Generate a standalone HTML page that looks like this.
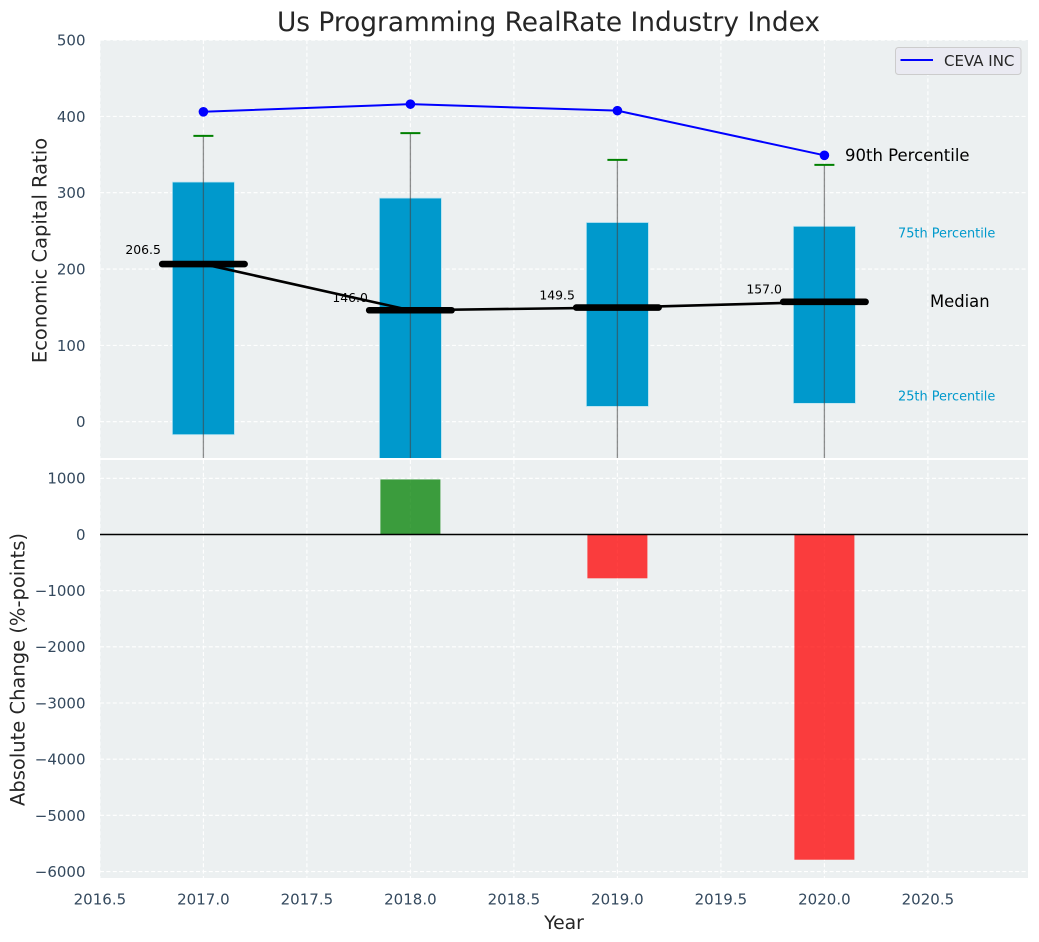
<!DOCTYPE html>
<html>
<head>
<meta charset="utf-8">
<style>
html,body{margin:0;padding:0;background:#fff;width:1039px;height:942px;overflow:hidden}
svg{display:block}
text{font-family:"DejaVu Sans","Liberation Sans",sans-serif}
</style>
</head>
<body>
<svg id="chart" xmlns="http://www.w3.org/2000/svg" width="1039" height="942" viewBox="0 0 1039 942">
<defs>
<clipPath id="clip-top"><rect x="100" y="40" width="928" height="418"/></clipPath>
<clipPath id="clip-bottom"><rect x="100" y="460" width="928" height="418"/></clipPath>
</defs>
</svg>
<script>
const years = [2017, 2018, 2019, 2020];
const ceva = [406, 416, 407.5, 349];
const p90 = [374.5, 378, 343, 336.5];
const p75 = [314, 293, 261, 256];
const medians = [206.5, 146.0, 149.5, 157.0];
const medianLabels = ['206.5', '146.0', '149.5', '157.0'];
const p25 = [-17, -60, 20, 24];
const p10 = [-120, -150, -90, -85];
const changes = [null, 980, -780, -5790];
const xTicks = [2016.5, 2017, 2017.5, 2018, 2018.5, 2019, 2019.5, 2020, 2020.5];
const xTickLabels = ['2016.5', '2017.0', '2017.5', '2018.0', '2018.5', '2019.0', '2019.5', '2020.0', '2020.5'];
const yTopTicks = [0, 100, 200, 300, 400, 500];
const yBottomTicks = [1000, 0, -1000, -2000, -3000, -4000, -5000, -6000];
const yBottomTickLabels = ['1000', '0', '\u22121000', '\u22122000', '\u22123000', '\u22124000', '\u22125000', '\u22126000'];

const svgNS = 'http://www.w3.org/2000/svg';
const svg = document.getElementById('chart');
const x = v => 203.4 + 207 * (v - 2017);
const yTop = v => 421.7 - 0.7633 * v;
const yBot = v => 534.5 - 0.05617 * v;

function make(tag, attrs, parent, txt) {
  const el = document.createElementNS(svgNS, tag);
  for (const k in attrs) el.setAttribute(k, attrs[k]);
  if (txt !== undefined) el.textContent = txt;
  (parent || svg).appendChild(el);
  return el;
}
let el;

/* backgrounds */
el = make('rect', {x: 100, y: 40, width: 928, height: 418, fill: '#ecf0f1'});


el = make('rect', {x: 100, y: 460, width: 928, height: 418, fill: '#ecf0f1'});



/* grid */
const gridStyle = {stroke: '#ffffff', 'stroke-width': 1.1, 'stroke-dasharray': '4 2.4', fill: 'none'};
xTicks.forEach(t => {
  el = make('line', Object.assign({x1: x(t), x2: x(t), y1: 40, y2: 458}, gridStyle));
  
  
  el = make('line', Object.assign({x1: x(t), x2: x(t), y1: 460, y2: 878}, gridStyle));
  
  
});
yTopTicks.forEach(t => {
  el = make('line', Object.assign({x1: 100, x2: 1028, y1: yTop(t), y2: yTop(t)}, gridStyle));
  
  
});
yBottomTicks.forEach(t => {
  el = make('line', Object.assign({x1: 100, x2: 1028, y1: yBot(t), y2: yBot(t)}, gridStyle));
  
  
});

/* top panel marks */
const topG = make('g', {'clip-path': 'url(#clip-top)'});



years.forEach((yr, i) => {
  el = make('rect', {x: x(yr) - 31.05, y: yTop(p75[i]), width: 62.1, height: yTop(p25[i]) - yTop(p75[i]), fill: '#0099cc', stroke: '#bfe6f2', 'stroke-width': 0.8}, topG);
  
  
});
years.forEach((yr, i) => {
  el = make('line', {x1: x(yr), x2: x(yr), y1: yTop(p90[i]), y2: yTop(p10[i]), stroke: '#444444', 'stroke-opacity': 0.6, 'stroke-width': 1.3}, topG);
  
  
  el = make('line', {x1: x(yr) - 10, x2: x(yr) + 10, y1: yTop(p90[i]), y2: yTop(p90[i]), stroke: '#008000', 'stroke-width': 2}, topG);
  
  
});

el = make('polyline', {points: years.map((yr, i) => x(yr) + ',' + yTop(medians[i])).join(' '), fill: 'none', stroke: '#000000', 'stroke-width': 2.6}, topG);



years.forEach((yr, i) => {
  el = make('line', {x1: x(yr) - 41.2, x2: x(yr) + 41.2, y1: yTop(medians[i]), y2: yTop(medians[i]), stroke: '#000000', 'stroke-width': 6.6, 'stroke-linecap': 'round'}, topG);
  
  
  el = make('text', {x: x(yr) - 42.5, y: yTop(medians[i] * 1.045 + 10) + 4.6, 'text-anchor': 'end', 'font-size': 12.4, fill: '#000000'}, topG, medianLabels[i]);
  
  
});

el = make('polyline', {points: years.map((yr, i) => x(yr) + ',' + yTop(ceva[i])).join(' '), fill: 'none', stroke: '#0000ff', 'stroke-width': 2}, topG);


years.forEach((yr, i) => {
  el = make('circle', {cx: x(yr), cy: yTop(ceva[i]), r: 4.8, fill: '#0000ff'}, topG);
  
  
});

/* annotations */
el = make('text', {x: 845, y: 161, 'font-size': 16.5, fill: '#000000'}, svg, '90th Percentile');


el = make('text', {x: 898, y: 237.5, 'font-size': 12.9, fill: '#0099cc'}, svg, '75th Percentile');


el = make('text', {x: 930, y: 307, 'font-size': 16.4, fill: '#000000'}, svg, 'Median');


el = make('text', {x: 898, y: 400.5, 'font-size': 12.9, fill: '#0099cc'}, svg, '25th Percentile');



/* bottom panel marks */
const botG = make('g', {'clip-path': 'url(#clip-bottom)'});


years.forEach((yr, i) => {
  const v = changes[i];
  if (v === null) return;
  const top = Math.min(yBot(v), yBot(0));
  const h = Math.abs(yBot(v) - yBot(0));
  el = make('rect', {x: x(yr) - 30, y: top, width: 60, height: h, fill: v >= 0 ? '#008000' : '#ff0000', 'fill-opacity': 0.75}, botG);
  
  
});
el = make('line', {x1: 100, x2: 1028, y1: yBot(0), y2: yBot(0), stroke: '#000000', 'stroke-width': 1.5}, botG);



/* tick labels */
const tickColor = '#34495e';
xTicks.forEach((t, i) => {
  el = make('text', {x: x(t), y: 904.5, 'text-anchor': 'middle', 'font-size': 15, fill: tickColor}, svg, xTickLabels[i]);
  
  
});
yTopTicks.forEach(t => {
  el = make('text', {x: 85.5, y: yTop(t) + 5.4, 'text-anchor': 'end', 'font-size': 15, fill: tickColor}, svg, String(t));
  
  
});
yBottomTicks.forEach((t, i) => {
  el = make('text', {x: 85.5, y: yBot(t) + 5.4, 'text-anchor': 'end', 'font-size': 15, fill: tickColor}, svg, yBottomTickLabels[i]);
  
  
});

/* titles */
el = make('text', {x: 548.5, y: 31, 'text-anchor': 'middle', 'font-size': 26.4, fill: '#262626'}, svg, 'Us Programming RealRate Industry Index');


el = make('text', {x: 564, y: 929, 'text-anchor': 'middle', 'font-size': 18.8, fill: '#262626'}, svg, 'Year');


el = make('text', {transform: 'translate(46.5,250.5) rotate(-90)', 'text-anchor': 'middle', 'font-size': 19.5, fill: '#262626'}, svg, 'Economic Capital Ratio');


el = make('text', {transform: 'translate(24.5,669.5) rotate(-90)', 'text-anchor': 'middle', 'font-size': 19.5, fill: '#262626'}, svg, 'Absolute Change (%-points)');



/* legend */
const legend = make('g', {});


el = make('rect', {x: 895.5, y: 47.5, width: 125.5, height: 27, rx: 3, fill: '#eaeaf2', stroke: '#cccccc', 'stroke-width': 1}, legend);


el = make('line', {x1: 900.5, x2: 933, y1: 60, y2: 60, stroke: '#0000ff', 'stroke-width': 2}, legend);


el = make('text', {x: 944, y: 66, 'font-size': 15, fill: '#262626'}, legend, 'CEVA INC');


</script>
</body>
</html>
